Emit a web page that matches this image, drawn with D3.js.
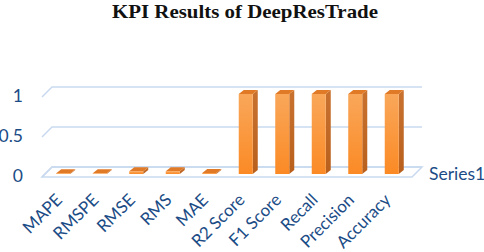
<!DOCTYPE html>
<html><head><meta charset="utf-8">
<script src="https://cdn.jsdelivr.net/npm/d3@7"></script>
<style>body{margin:0;background:#fff}svg{display:block}</style>
</head><body>
<svg id="c" width="484" height="252"></svg>
<script>
const categories = ["MAPE","RMSPE","RMSE","RMS","MAE","R2 Score","F1 Score","Recall","Precision","Accuracy"];
const values = [0.01, 0.008, 0.035, 0.035, 0.012, 1, 1, 1, 1, 1];
const yTicks = [0, 0.5, 1];
const seriesName = "Series1";
const title = "KPI Results of DeepResTrade";

const svg = d3.select("#c");
const blue = "#1b4c86";
const grid = "#c9daf0";

const wallDX = 10, wallDY = -10;
const barDX = 5, barDY = -4;
const barShiftX = 3, barShiftY = -3;

const x = d3.scaleBand().domain(categories).range([42, 407]).paddingInner(0.616).paddingOuter(0.308);
const y = d3.scaleLinear().domain([0, 1]).range([177, 97]);

const defs = svg.append("defs");
const g1 = defs.append("linearGradient").attr("id","front").attr("x1",0).attr("y1",0).attr("x2",0).attr("y2",1);
g1.append("stop").attr("offset","0%").attr("stop-color","#f9a75a");
g1.append("stop").attr("offset","100%").attr("stop-color","#fb8a25");
const g2 = defs.append("linearGradient").attr("id","side").attr("x1",0).attr("y1",0).attr("x2",0).attr("y2",1);
g2.append("stop").attr("offset","0%").attr("stop-color","#c9722f");
g2.append("stop").attr("offset","100%").attr("stop-color","#b85f1c");

svg.append("text").attr("x", 245).attr("y", 18).attr("text-anchor","middle")
  .attr("font-family","'Liberation Serif', serif").attr("font-weight","bold").attr("font-size",19.5)
  .attr("textLength", 266).attr("lengthAdjust","spacingAndGlyphs")
  .attr("fill","#111").text(title);

const x0 = x.range()[0], x1 = x.range()[1] + 5;

const fy = y(0);
svg.append("path")
  .attr("d", `M${x0},${fy} L${x1},${fy} L${x1+wallDX},${fy+wallDY} L${x0+wallDX},${fy+wallDY} Z`)
  .attr("fill","#fff").attr("stroke", grid).attr("stroke-width",1.5);

yTicks.forEach(t => {
  const yy = y(t);
  svg.append("path")
    .attr("d", `M${x0},${yy} L${x0+wallDX},${yy+wallDY} L${x1+wallDX},${yy+wallDY}`)
    .attr("fill","none").attr("stroke", grid).attr("stroke-width",1.5);
});

svg.append("g").selectAll("text").data(yTicks).join("text")
  .attr("x", 23).attr("y", d => y(d) + 1).attr("text-anchor","end").attr("dominant-baseline","middle")
  .attr("font-family","Lato, 'Open Sans', sans-serif").attr("font-size",17.5).attr("fill",blue)
  .text(d => d);

const bw = x.bandwidth();
const bars = svg.append("g").selectAll("g").data(categories.map((c,i)=>({c, v: values[i]}))).join("g");
bars.each(function(d){
  const g = d3.select(this);
  const bx = x(d.c) + barShiftX, by0 = y(0) + barShiftY, by1 = y(d.v) + barShiftY;
  g.append("path").attr("d", `M${bx+bw},${by1} L${bx+bw+barDX},${by1+barDY} L${bx+bw+barDX},${by0+barDY} L${bx+bw},${by0} Z`)
    .attr("fill","url(#side)");
  g.append("path").attr("d", `M${bx},${by1} L${bx+barDX},${by1+barDY} L${bx+bw+barDX},${by1+barDY} L${bx+bw},${by1} Z`)
    .attr("fill","#e07a27");
  g.append("rect").attr("x", bx).attr("y", by1).attr("width", bw).attr("height", Math.max(0.5, by0-by1))
    .attr("fill","url(#front)");
});

svg.append("g").selectAll("text").data(categories).join("text")
  .attr("transform", d => `translate(${x(d) + bw/2 + 3},${201}) rotate(-45)`)
  .attr("text-anchor","end")
  .attr("font-family","Lato, 'Open Sans', sans-serif").attr("font-size",17).attr("fill",blue)
  .text(d => d);

svg.append("text").attr("x", 429).attr("y", 180)
  .attr("font-family","Lato, 'Open Sans', sans-serif").attr("font-size",17.5).attr("fill",blue)
  .text(seriesName);
</script>
</body></html>
